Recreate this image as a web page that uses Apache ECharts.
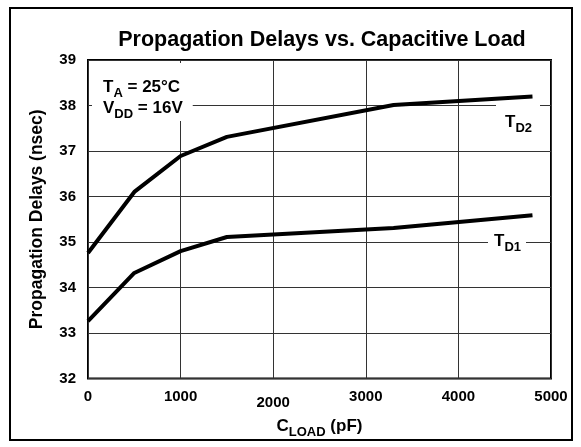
<!DOCTYPE html>
<html>
<head>
<meta charset="utf-8">
<script src="https://cdn.jsdelivr.net/npm/echarts@6/dist/echarts.min.js"></script>
<style>
  html, body { margin: 0; padding: 0; background: #fff; }
  #chart { width: 581px; height: 447px; }
</style>
</head>
<body>
<div id="chart"></div>
<script>
// load capacitance (pF) and the two delay curves (nsec)
var loads = [0, 500, 1000, 1500, 3300, 4800];
var td2 = [34.76, 36.1, 36.89, 37.31, 38.01, 38.2];
var td1 = [33.26, 34.32, 34.8, 35.11, 35.31, 35.59];
var xTicks = [0, 1000, 2000, 3000, 4000, 5000];
var yTicks = [32, 33, 34, 35, 36, 37, 38, 39];

var FONT = '"Liberation Sans", Arial, sans-serif';

function pairs(xs, ys) {
    var out = [];
    for (var i = 0; i < xs.length; i++) out.push([xs[i], ys[i]]);
    return out;
}

// main text + subscript, used for all the T_x / V_DD / C_LOAD labels
var subRich = {
    m: { fontFamily: FONT, fontWeight: 'bold', fontSize: 17, color: '#000', verticalAlign: 'bottom', lineHeight: 21 },
    s: { fontFamily: FONT, fontWeight: 'bold', fontSize: 13, color: '#000', verticalAlign: 'bottom', lineHeight: 21, padding: [0, 0, -4, 0] }
};

var chart = echarts.init(document.getElementById('chart'));

var option = {
    animation: false,
    title: {
        text: 'Propagation Delays vs. Capacitive Load',
        left: 317,
        top: 24,
        textAlign: 'center',
        textStyle: { fontFamily: FONT, fontWeight: 'bold', fontSize: 21.5, color: '#000' }
    },
    grid: {
        left: 88, right: 30, top: 60, bottom: 68.5,
        show: true, borderColor: '#000', borderWidth: 2, backgroundColor: 'transparent'
    },
    xAxis: {
        type: 'value',
        min: xTicks[0],
        max: xTicks[xTicks.length - 1],
        interval: 1000,
        name: '{m|C}{s|LOAD}{m| (pF)}',
        nameLocation: 'middle',
        nameGap: 35,
        nameTextStyle: { rich: subRich },
        axisLine: { show: false },
        axisTick: { show: false },
        axisLabel: {
            margin: 11,
            formatter: function (v) {
                return v === 2000 ? '{low|' + v + '}' : '{n|' + v + '}';
            },
            rich: {
                n: { fontFamily: FONT, fontWeight: 'bold', fontSize: 15, color: '#000' },
                low: { fontFamily: FONT, fontWeight: 'bold', fontSize: 15, color: '#000', padding: [6, 0, 0, 0] }
            }
        },
        splitLine: { show: true, lineStyle: { color: '#333', width: 1 } }
    },
    yAxis: {
        type: 'value',
        min: yTicks[0],
        max: yTicks[yTicks.length - 1],
        interval: 1,
        name: 'Propagation Delays (nsec)',
        nameLocation: 'middle',
        nameGap: 42,
        nameTextStyle: { fontFamily: FONT, fontWeight: 'bold', fontSize: 17.5, color: '#000' },
        axisLine: { show: false },
        axisTick: { show: false },
        axisLabel: { margin: 12, fontFamily: FONT, fontWeight: 'bold', fontSize: 15, color: '#000' },
        splitLine: { show: true, lineStyle: { color: '#333', width: 1 } }
    },
    series: [{
        name: 'TD2',
        type: 'line',
        data: pairs(loads, td2),
        showSymbol: false,
        lineStyle: { color: '#000', width: 4 },
        z: 5
    }, {
        name: 'TD1',
        type: 'line',
        data: pairs(loads, td1),
        showSymbol: false,
        lineStyle: { color: '#000', width: 4 },
        z: 5
    }],
    graphic: [{
        type: 'rect',
        shape: { x: 10, y: 8, width: 562, height: 432 },
        style: { fill: null, stroke: '#000', lineWidth: 2 },
        silent: true
    }, {
        type: 'text',
        x: 92, y: 63,
        style: {
            text: '{m|T}{s|A}{m| = 25°C}\n{m|V}{s|DD}{m| = 16V}',
            rich: subRich,
            backgroundColor: '#fff',
            padding: [12, 10, 4, 11]
        },
        z: 10
    }, {
        type: 'text',
        x: 496, y: 104,
        style: {
            text: '{m|T}{s|D2}',
            rich: subRich,
            backgroundColor: '#fff',
            padding: [6, 8, 2, 9]
        },
        z: 10
    }, {
        type: 'text',
        x: 488, y: 229,
        style: {
            text: '{m|T}{s|D1}',
            rich: subRich,
            backgroundColor: '#fff',
            padding: [0, 5, 2, 6]
        },
        z: 10
    }]
};

chart.setOption(option);
</script>
</body>
</html>
